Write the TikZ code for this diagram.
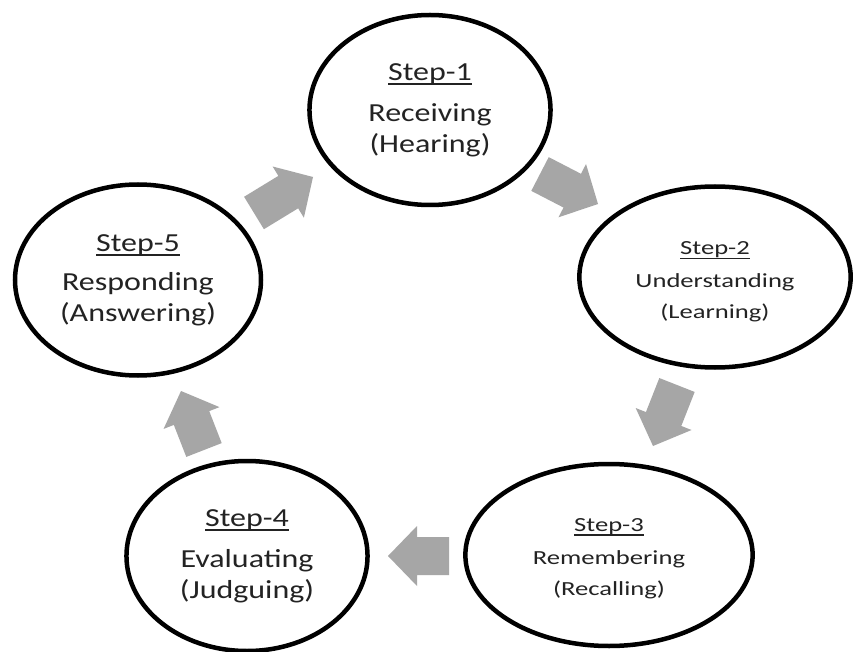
\documentclass[tikz,border=0pt]{standalone}
\usepackage{fontspec}
\setmainfont{Carlito}
\usetikzlibrary{shapes.geometric,calc}
\definecolor{arrowgray}{RGB}{166,166,166}
\definecolor{txtgray}{RGB}{35,35,35}
\newcommand\stepul[1]{\setbox0=\hbox{#1}\rlap{\rule[-4.5pt]{\wd0}{1.6pt}}\box0}
% block arrow from named coordinate #1 (tail middle) to #2 (tip)
\newcommand\blockarr[2]{%
  \coordinate (#1hb) at ($(#2)!29pt!(#1)$);
  \fill[blockfill] ($(#1)!19pt!90:(#2)$) -- ($(#1hb)!19pt!-90:(#1)$)
    -- ($(#1hb)!30pt!-90:(#1)$) -- (#2) -- ($(#1hb)!30pt!90:(#1)$)
    -- ($(#1hb)!19pt!90:(#1)$) -- ($(#1)!19pt!-90:(#2)$) -- cycle;
}
\begin{document}
\begin{tikzpicture}[x=1pt,y=-1pt,
  stepnode/.style={draw=black, line width=4.5pt, ellipse, inner sep=0pt, align=center, text=txtgray},
  bigtext/.style={xscale=1.23, font=\fontsize{26}{31}\selectfont},
  smalltext/.style={xscale=1.33, font=\fontsize{20}{31}\selectfont},
  blockfill/.style={fill=arrowgray}
]
\fill[white] (0,0) rectangle (854,652);
\useasboundingbox (0,0) rectangle (854,652);

\node[stepnode,bigtext,minimum width=196pt,minimum height=190pt] (s1) at (430,110)
  {\stepul{Step-1}\\[10pt]Receiving\\(Hearing)};
\node[stepnode,smalltext,minimum width=204pt,minimum height=181pt] (s2) at (715,277)
  {\rule{0pt}{23pt}\stepul{Step-2}\\[2pt]Understanding\\(Learning)};
\node[stepnode,smalltext,minimum width=216pt,minimum height=182pt] (s3) at (609,555)
  {\rule{0pt}{20pt}\stepul{Step-3}\\[2pt]Remembering\\(Recalling)};
\node[stepnode,bigtext,minimum width=196pt,minimum height=190pt] (s4) at (247,556)
  {\stepul{Step-4}\\[10pt]Evaluating\\(Judguing)};
\node[stepnode,bigtext,minimum width=200pt,minimum height=191pt] (s5) at (138,280)
  {\stepul{Step-5}\\[8pt]Responding\\(Answering)};

\coordinate (a12s) at (540,174); \coordinate (a12e) at (598,204);
\coordinate (a23s) at (677,385); \coordinate (a23e) at (653,446);
\coordinate (a34s) at (449,556); \coordinate (a34e) at (388,556);
\coordinate (a45s) at (204,450); \coordinate (a45e) at (181,391);
\coordinate (a51s) at (254,213); \coordinate (a51e) at (313,177);

\blockarr{a12s}{a12e}
\blockarr{a23s}{a23e}
\blockarr{a34s}{a34e}
\blockarr{a45s}{a45e}
\blockarr{a51s}{a51e}
\end{tikzpicture}
\end{document}
